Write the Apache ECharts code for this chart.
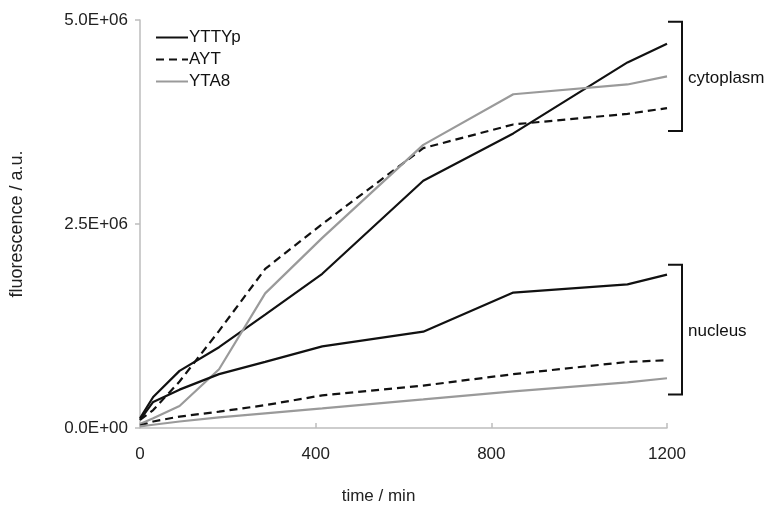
<!DOCTYPE html>
<html>
<head>
<meta charset="utf-8">
<script src="https://cdn.jsdelivr.net/npm/echarts@6/dist/echarts.min.js"></script>
<style>
  html, body { margin: 0; padding: 0; background: #fff; }
  #main { width: 769px; height: 510px; }
</style>
</head>
<body>
<div id="main"></div>
<script>
// time points (min)
var times = [0, 30, 90, 180, 285, 415, 645, 850, 1110, 1200];

// cytoplasm
var yttypCyto = [0.12e6, 0.38e6, 0.70e6, 0.99e6, 1.39e6, 1.89e6, 3.03e6, 3.61e6, 4.48e6, 4.71e6];
var aytCyto   = [0.10e6, 0.22e6, 0.57e6, 1.19e6, 1.95e6, 2.50e6, 3.43e6, 3.72e6, 3.85e6, 3.92e6];
var yta8Cyto  = [0.05e6, 0.12e6, 0.27e6, 0.72e6, 1.65e6, 2.33e6, 3.47e6, 4.09e6, 4.21e6, 4.31e6];

// nucleus
var yttypNuc = [0.10e6, 0.32e6, 0.47e6, 0.66e6, 0.81e6, 1.00e6, 1.18e6, 1.66e6, 1.76e6, 1.88e6];
var aytNuc   = [0.03e6, 0.08e6, 0.14e6, 0.20e6, 0.28e6, 0.40e6, 0.52e6, 0.66e6, 0.81e6, 0.83e6];
var yta8Nuc  = [0.02e6, 0.04e6, 0.08e6, 0.13e6, 0.18e6, 0.24e6, 0.35e6, 0.45e6, 0.56e6, 0.61e6];

// brackets on the right
var bracketNames  = ['cytoplasm', 'nucleus'];
var bracketTop    = [4.98e6, 2.00e6];
var bracketBottom = [3.64e6, 0.41e6];

var FONT = 'Liberation Sans, Arial, Helvetica, sans-serif';

function pairs(vals) {
    return times.map(function (t, i) { return [t, vals[i]]; });
}

function lineSeries(name, vals, color, dashed) {
    return {
        name: name,
        type: 'line',
        data: pairs(vals),
        symbol: 'none',
        silent: true,
        lineStyle: { color: color, width: 2.2, type: dashed ? [8, 5] : 'solid' },
        itemStyle: { color: color }
    };
}

var bracketData = bracketNames.map(function (n, i) {
    return [1200, bracketTop[i], bracketBottom[i]];
});

var myChart = echarts.init(document.getElementById('main'));

var option = {
    animation: false,
    backgroundColor: '#fff',
    grid: { left: 139, right: 102, top: 20, bottom: 76 },
    legend: {
        data: ['YTTYp', 'AYT', 'YTA8'],
        orient: 'vertical',
        left: 150,
        top: 24,
        itemWidth: 32,
        itemHeight: 14,
        itemGap: 5,
        itemStyle: { opacity: 0 },
        textStyle: { fontFamily: FONT, fontSize: 17, color: '#111', padding: [0, 0, 0, -4] }
    },
    xAxis: {
        type: 'value',
        min: 0, max: 1200, interval: 400,
        name: 'time / min',
        nameLocation: 'middle',
        nameGap: 60,
        nameTextStyle: { fontFamily: FONT, fontSize: 17, color: '#222', padding: [0, 50, 0, 0] },
        axisLine: { lineStyle: { color: '#bdbdbd', width: 1.5 } },
        axisTick: { inside: true, length: 5, lineStyle: { color: '#bdbdbd', width: 1.5 } },
        axisLabel: {
            fontFamily: FONT, fontSize: 17, color: '#222', margin: 18,
            formatter: function (v) { return String(v); }
        },
        splitLine: { show: false }
    },
    yAxis: {
        type: 'value',
        min: 0, max: 5e6, interval: 2.5e6,
        name: 'fluorescence / a.u.',
        nameLocation: 'middle',
        nameGap: 114,
        nameTextStyle: { fontFamily: FONT, fontSize: 18, color: '#222' },
        axisLine: { show: true, lineStyle: { color: '#bdbdbd', width: 1.5 } },
        axisTick: { show: true, length: 5, lineStyle: { color: '#bdbdbd', width: 1.5 } },
        axisLabel: {
            fontFamily: FONT, fontSize: 17, color: '#222', margin: 12,
            formatter: function (v) {
                var s = v.toExponential(1).toUpperCase();   // "5.0E+6"
                var parts = s.split('E');
                var sign = parts[1].charAt(0);
                var ex = parts[1].slice(1);
                if (ex.length < 2) ex = '0' + ex;
                return parts[0] + 'E' + sign + ex;
            }
        },
        splitLine: { show: false }
    },
    series: [
        lineSeries('YTTYp', yttypCyto, '#111', false),
        lineSeries('AYT', aytCyto, '#111', true),
        lineSeries('YTA8', yta8Cyto, '#9a9a9a', false),
        lineSeries('YTTYp', yttypNuc, '#111', false),
        lineSeries('AYT', aytNuc, '#111', true),
        lineSeries('YTA8', yta8Nuc, '#9a9a9a', false),
        {
            // brackets with labels, drawn from the data coordinates
            type: 'custom',
            name: 'brackets',
            silent: true,
            clip: false,
            data: bracketData,
            encode: { x: 0, y: [1, 2] },
            renderItem: function (params, api) {
                var top = api.coord([api.value(0), api.value(1)]);
                var bot = api.coord([api.value(0), api.value(2)]);
                var x0 = top[0] + 1, x1 = top[0] + 15;
                return {
                    type: 'group',
                    children: [{
                        type: 'polyline',
                        shape: { points: [[x0, top[1]], [x1, top[1]], [x1, bot[1]], [x0, bot[1]]] },
                        style: { stroke: '#111', lineWidth: 2, fill: null }
                    }, {
                        type: 'text',
                        x: x1 + 6,
                        y: (top[1] + bot[1]) / 2 + 2,
                        style: {
                            text: bracketNames[params.dataIndex],
                            font: '17px ' + FONT,
                            fill: '#111',
                            verticalAlign: 'middle',
                            align: 'left'
                        }
                    }]
                };
            }
        }
    ]
};

myChart.setOption(option);
</script>
</body>
</html>
